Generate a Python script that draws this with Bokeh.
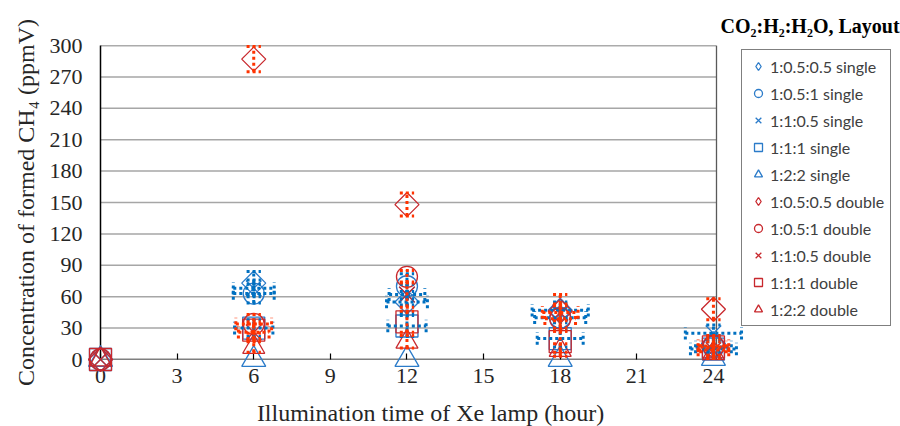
import numpy as np
from bokeh.plotting import figure
from bokeh.models import Range1d, FixedTicker, Legend, LegendItem, ColumnDataSource
from bokeh.core.properties import value
from bokeh.embed import file_html
from bokeh.resources import INLINE

# ---------------- data ----------------
hours = [0, 6, 12, 18, 24]

labels = ["1:0.5:0.5 single", "1:0.5:1 single", "1:1:0.5 single", "1:1:1 single", "1:2:2 single",
          "1:0.5:0.5 double", "1:0.5:1 double", "1:1:0.5 double", "1:1:1 double", "1:2:2 double"]
legend_title = "CO\u2082:H\u2082:H\u2082O, Layout"
x_title = "Illumination time of Xe lamp (hour)"
y_title = "Concentration of formed CH\u2084 (ppmV)"

# single layout (blue)
s_diamond = [0, 73, 55, 47, 15]
s_circle = [0, 63, 70, 40, 12]
s_x = [0, 68, 62, 44, 25]
s_square = [0, 30, 32, 20, 10]
s_triangle = [0, 0, 0, 0, 1]
# double layout (red)
d_diamond = [0, 287, 148, 46, 48]
d_circle = [0, 34, 79, 39, 13]
d_x = [0, 26, 62, 45, 9]
d_square = [0, 28, 36, 17, 12]
d_triangle = [0, 12, 17, 9, 6]

# y error (ppmV)
s_diamond_yerr = [0, 11, 10, 8, 8]
s_circle_yerr = [0, 9, 12, 10, 10]
s_x_yerr = [0, 8, 10, 9, 8]
s_square_yerr = [0, 8, 10, 8, 9]
s_triangle_yerr = [0, 0, 0, 0, 0]
d_diamond_yerr = [0, 12, 11, 16, 10]
d_circle_yerr = [0, 9, 6, 12, 10]
d_x_yerr = [0, 8, 12, 8, 8]
d_square_yerr = [0, 8, 10, 10, 8]
d_triangle_yerr = [0, 5, 6, 6, 5]

# x error (hour)
s_diamond_xerr = [0, 0, 0.8, 1.1, 0]
s_circle_xerr = [0, 0.8, 0, 1.0, 0.7]
s_x_xerr = [0, 0.8, 0.7, 0, 1.1]
s_square_xerr = [0, 0.75, 0.75, 0.9, 0.9]
s_triangle_xerr = [0, 0, 0, 0, 0]
d_diamond_xerr = [0, 0, 0, 0, 0]
d_circle_xerr = [0, 0.7, 0, 0.6, 0.6]
d_x_xerr = [0, 0.6, 0, 0.7, 0.6]
d_square_xerr = [0, 0, 0, 0, 0.5]
d_triangle_xerr = [0, 0, 0, 0, 0]

x_ticks = [0, 3, 6, 9, 12, 15, 18, 21, 24]
y_ticks = [0, 30, 60, 90, 120, 150, 180, 210, 240, 270, 300]
x_axis_end = 24.12       # right edge of the plotting area (hours)
y_axis_end = 300

# ---------------- styles ----------------
BLUE = "#2B7BC9"
RED = "#C8282D"
BLUE_ERR = "#0070C0"
RED_ERR = "#FF3300"
SERIF = "Liberation Serif"

# (label, plot marker, angle, size, legend marker, colour, error colour, y, yerr, xerr)
series = [
    (labels[0], "square", np.pi / 4, 17, "diamond", BLUE, BLUE_ERR, s_diamond, s_diamond_yerr, s_diamond_xerr),
    (labels[1], "circle", 0, 21, "circle", BLUE, BLUE_ERR, s_circle, s_circle_yerr, s_circle_xerr),
    (labels[2], "x", 0, 22, "x", BLUE, BLUE_ERR, s_x, s_x_yerr, s_x_xerr),
    (labels[3], "square", 0, 22, "square", BLUE, BLUE_ERR, s_square, s_square_yerr, s_square_xerr),
    (labels[4], "triangle", 0, 24, "triangle", BLUE, BLUE_ERR, s_triangle, s_triangle_yerr, s_triangle_xerr),
    (labels[5], "square", np.pi / 4, 17, "diamond", RED, RED_ERR, d_diamond, d_diamond_yerr, d_diamond_xerr),
    (labels[6], "circle", 0, 21, "circle", RED, RED_ERR, d_circle, d_circle_yerr, d_circle_xerr),
    (labels[7], "x", 0, 22, "x", RED, RED_ERR, d_x, d_x_yerr, d_x_xerr),
    (labels[8], "square", 0, 22, "square", RED, RED_ERR, d_square, d_square_yerr, d_square_xerr),
    (labels[9], "triangle", 0, 22, "triangle", RED, RED_ERR, d_triangle, d_triangle_yerr, d_triangle_xerr),
]

# frame spans to the right canvas edge so that the legend fits inside it
LEFT, RIGHT_PLOT, TOP, BOTTOM = 100, 716, 45, 67
px_per_hour = (RIGHT_PLOT - LEFT) / x_axis_end
px_per_unit = (426 - TOP - BOTTOM) / y_axis_end
x_frame_end = (900 - LEFT) / px_per_hour

p = figure(width=900, height=426, output_backend="svg", toolbar_location=None,
           x_range=Range1d(0, x_frame_end), y_range=Range1d(0, y_axis_end),
           min_border_left=LEFT, min_border_right=0, min_border_top=TOP, min_border_bottom=BOTTOM)
p.background_fill_color = "white"
p.border_fill_color = "white"
p.outline_line_color = None
p.xgrid.visible = False
p.ygrid.visible = False

# horizontal gridlines and plot-area border, limited to the 0-24 h area
gy = [t for t in y_ticks if 0 < t < y_axis_end]
p.segment(x0=[0] * len(gy), y0=gy, x1=[x_axis_end] * len(gy), y1=gy,
          line_color="#A6A6A6", line_width=1.5)
p.segment(x0=[0, x_axis_end], y0=[y_axis_end, 0], x1=[x_axis_end, x_axis_end],
          y1=[y_axis_end, y_axis_end], line_color="#595959", line_width=1.3)
p.segment(x0=[0], y0=[0], x1=[x_axis_end], y1=[0], line_color="black", line_width=1.5)

# axes
p.xaxis.ticker = FixedTicker(ticks=x_ticks)
p.yaxis.ticker = FixedTicker(ticks=y_ticks)
for ax in (p.xaxis[0], p.yaxis[0]):
    ax.minor_tick_line_color = None
    ax.major_label_text_font = SERIF
    ax.major_label_text_font_size = "22px"
    ax.major_label_text_color = "#262626"
    ax.axis_label_text_font = SERIF
    ax.axis_label_text_font_size = "24px"
    ax.axis_label_text_font_style = "normal"
    ax.axis_label_text_color = "#262626"
p.xaxis.axis_line_color = None
p.yaxis.axis_line_color = "black"
p.yaxis.axis_line_width = 1.5
p.xaxis.major_tick_in = 6
p.xaxis.major_tick_out = 0
p.xaxis.major_tick_line_color = "black"
p.xaxis.major_tick_line_width = 1.2
p.yaxis.major_tick_in = 0
p.yaxis.major_tick_out = 0
p.xaxis.major_label_standoff = 9
p.yaxis.major_label_standoff = 18
p.yaxis.axis_label = y_title
p.yaxis.axis_label_standoff = 8

# x-axis title (centred under the 0-24 h area, like the original)
p.text(x=[(430 - LEFT) / px_per_hour], y=[-(412 - 359) / px_per_unit], text=[x_title],
       text_font=value(SERIF), text_font_size="24px", text_baseline="middle",
       text_align="center", text_color="#262626", level="overlay")

# markers (plot) + legend-only glyph renderers (one NaN point: drawn only in the legend)
items = []
for name, marker, angle, size, lmarker, color, ecolor, ys, yerr, xerr in series:
    src = ColumnDataSource(dict(x=hours, y=ys))
    r = p.scatter("x", "y", source=src, marker=marker, angle=angle, size=size,
                  line_color=color, fill_color=None, line_width=1.3, level="overlay")
    if lmarker != marker:
        lr = p.scatter(x=[float("nan")], y=[float("nan")], marker=lmarker, size=size,
                       line_color=color, fill_color=None, line_width=1.3)
        items.append(LegendItem(label=name, renderers=[lr]))
    else:
        items.append(LegendItem(label=name, renderers=[r]))

# error bars (dotted)
for name, marker, angle, size, lmarker, color, ecolor, ys, yerr, xerr in series:
    hx = np.array(hours, dtype=float)
    vy = np.array(ys, dtype=float)
    ey = np.array(yerr, dtype=float)
    ex = np.array(xerr, dtype=float)
    m = ey > 0
    cap = 0.28
    xs0 = list(hx[m]) + list(hx[m] - cap) + list(hx[m] - cap)
    xs1 = list(hx[m]) + list(hx[m] + cap) + list(hx[m] + cap)
    ys0 = list(vy[m] - ey[m]) + list(vy[m] + ey[m]) + list(vy[m] - ey[m])
    ys1 = list(vy[m] + ey[m]) + list(vy[m] + ey[m]) + list(vy[m] - ey[m])
    mx = ex > 0
    hcap = 6
    xs0 += list(hx[mx] - ex[mx]) + list(hx[mx] - ex[mx]) + list(hx[mx] + ex[mx])
    xs1 += list(hx[mx] + ex[mx]) + list(hx[mx] - ex[mx]) + list(hx[mx] + ex[mx])
    ys0 += list(vy[mx]) + list(vy[mx] - hcap) + list(vy[mx] - hcap)
    ys1 += list(vy[mx]) + list(vy[mx] + hcap) + list(vy[mx] + hcap)
    p.segment(x0=xs0, y0=ys0, x1=xs1, y1=ys1, line_color=ecolor, line_width=3,
              line_dash="3 3", line_cap="butt", level="overlay")

# legend title above the legend box
p.text(x=[(720 - LEFT) / px_per_hour], y=[(359 - 25) / px_per_unit], text=[legend_title],
       text_font=value(SERIF), text_font_style="bold", text_font_size="20px",
       text_baseline="middle", text_align="left", text_color="black", level="overlay")

legend = Legend(items=items, location=(641, 33), orientation="vertical",
                border_line_color="black", border_line_width=1, background_fill_color="white",
                background_fill_alpha=1.0, label_text_font="Lato", label_text_font_size="16px",
                label_text_color="#404040", glyph_width=20, glyph_height=20, label_height=20,
                spacing=7, padding=6, label_standoff=2, margin=0)
p.add_layout(legend, "center")

open("out.html", "w").write(file_html(p, INLINE))
